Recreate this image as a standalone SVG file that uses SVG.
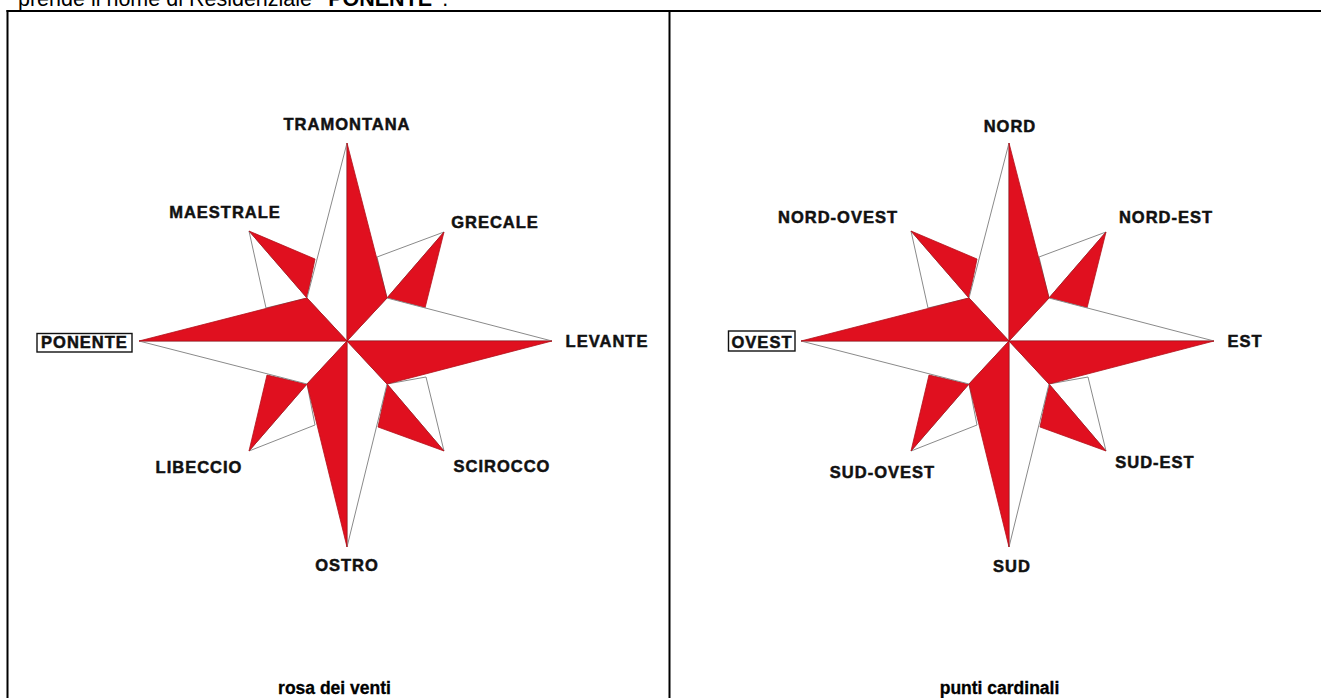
<svg xmlns="http://www.w3.org/2000/svg" xmlns:xlink="http://www.w3.org/1999/xlink" width="1321" height="698" viewBox="0 0 1321 698">
<style>
.frame{stroke:#000;stroke-width:2;fill:none}
.red{fill:#e0101f;stroke:#b3101a;stroke-width:0.8;stroke-linejoin:round}
.white{fill:#fff;stroke:#8a8a8a;stroke-width:1;stroke-linejoin:round}
.lbl{font-family:"Liberation Sans",Arial,sans-serif;font-weight:bold;font-size:16.5px;letter-spacing:1px;fill:#111;stroke:#111;stroke-width:0.5;text-anchor:middle}
.cap{font-family:"Liberation Sans",Arial,sans-serif;font-weight:bold;font-size:17.5px;fill:#000;stroke:#000;stroke-width:0.3;text-anchor:middle}
.top{font-family:"Liberation Sans",Arial,sans-serif;font-size:21.5px;fill:#000}
.box{fill:none;stroke:#111;stroke-width:1.4}
</style>
<defs>
<g id="rose">
<polygon class="white" points="97,-109 30,-84 40,-43"/>
<polygon class="red" points="97,-109 40,-43 78,-33"/>
<polygon class="white" points="97,110 79,36 40,43"/>
<polygon class="red" points="97,110 40,43 31,86"/>
<polygon class="white" points="-98,110 -32,84 -40,43"/>
<polygon class="red" points="-98,110 -40,43 -80,34"/>
<polygon class="white" points="-98,-110 -81,-33 -40,-43"/>
<polygon class="red" points="-98,-110 -40,-43 -32,-82"/>
<polygon class="white" points="0,-198 0,0 -40,-43"/>
<polygon class="white" points="205,0 0,0 40,-43"/>
<polygon class="white" points="0,206 0,0 40,43"/>
<polygon class="white" points="-208,0 0,0 -40,43"/>
<polygon class="red" points="0,-198 0,0 40,-43"/>
<polygon class="red" points="205,0 0,0 40,43"/>
<polygon class="red" points="0,206 0,0 -40,43"/>
<polygon class="red" points="-208,0 0,0 -40,-43"/>
</g>
</defs>
<rect width="1321" height="698" fill="#fff"/>
<text class="top" x="18" y="5.5">prende il nome di Residenziale <tspan font-weight="bold">"PONENTE"</tspan>.</text>
<g id="frame">
<line class="frame" x1="6.5" y1="11" x2="1321" y2="11"/>
<line class="frame" x1="7.5" y1="10" x2="7.5" y2="698"/>
<line class="frame" x1="669.5" y1="10" x2="669.5" y2="698"/>
</g>
<g id="rosa-dei-venti">
<use xlink:href="#rose" transform="translate(347,341)"/>
<text class="lbl" x="347" y="130">TRAMONTANA</text>
<text class="lbl" x="225" y="218">MAESTRALE</text>
<text class="lbl" x="495" y="228">GRECALE</text>
<rect class="box" x="37" y="333.5" width="95" height="18.5"/>
<text class="lbl" x="84.5" y="348.3">PONENTE</text>
<text class="lbl" x="607" y="347.3">LEVANTE</text>
<text class="lbl" x="199" y="473.3">LIBECCIO</text>
<text class="lbl" x="502" y="472.3">SCIROCCO</text>
<text class="lbl" x="347" y="570.7">OSTRO</text>
<text class="cap" x="334.5" y="694">rosa dei venti</text>
</g>
<g id="punti-cardinali">
<use xlink:href="#rose" transform="translate(1009,341)"/>
<text class="lbl" x="1010" y="131.7">NORD</text>
<text class="lbl" x="838" y="222.7">NORD-OVEST</text>
<text class="lbl" x="1166" y="222.7">NORD-EST</text>
<rect class="box" x="728.5" y="331" width="66.5" height="20"/>
<text class="lbl" x="762" y="347.5">OVEST</text>
<text class="lbl" x="1245" y="347.3">EST</text>
<text class="lbl" x="882.5" y="477.7">SUD-OVEST</text>
<text class="lbl" x="1155" y="468.3">SUD-EST</text>
<text class="lbl" x="1012" y="572.3">SUD</text>
<text class="cap" x="999.5" y="694">punti cardinali</text>
</g>
</svg>
